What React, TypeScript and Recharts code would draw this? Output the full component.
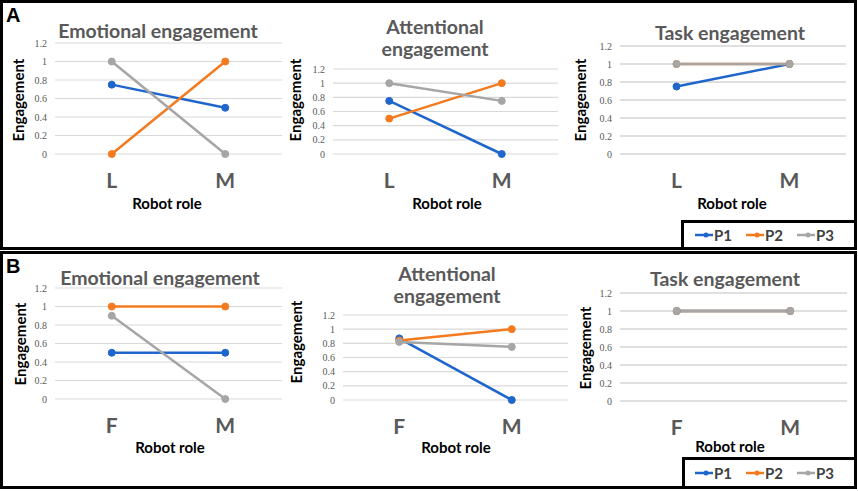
import { CartesianGrid, Line, LineChart, XAxis, YAxis } from "recharts";

const SERIES = ["P1", "P2", "P3"];
const COLORS = ["#1f66cc", "#f47a20", "#a6a6a6"];
const ROLES_A = ["L", "M"];
const ROLES_B = ["F", "M"];
const Y_TICKS = [0, 0.2, 0.4, 0.6, 0.8, 1, 1.2];

// panel A: leader (L) vs. motivator (M)
const aEmoP1 = [0.75, 0.5];
const aEmoP2 = [0, 1];
const aEmoP3 = [1, 0];
const aAttP1 = [0.75, 0];
const aAttP2 = [0.5, 1];
const aAttP3 = [1, 0.75];
const aTaskP1 = [0.75, 1];
const aTaskP2 = [1, 1];
const aTaskP3 = [1, 1];

// panel B: follower (F) vs. motivator (M)
const bEmoP1 = [0.5, 0.5];
const bEmoP2 = [1, 1];
const bEmoP3 = [0.9, 0];
const bAttP1 = [0.87, 0];
const bAttP2 = [0.84, 1];
const bAttP3 = [0.82, 0.75];
const bTaskP1 = [1, 1];
const bTaskP2 = [1, 1];
const bTaskP3 = [1, 1];

const rows = (cats: string[], p1: number[], p2: number[], p3: number[]) =>
  cats.map((role, i) => ({ role, P1: p1[i], P2: p2[i], P3: p3[i] }));

const SANS = "Lato, 'Open Sans', sans-serif";
const GRAY = "#595959";

type Box = { x0: number; x1: number; yTop: number; yBot: number; grid?: string };

function Mini({ data, x0, x1, yTop, yBot, grid = "#d9d9d9" }: Box & { data: any[] }) {
  const left = 60;
  const top = 5;
  const bottom = 40;
  const w = x1 - x0 + left + 5;
  const h = yBot - yTop + top + bottom;
  const pad = (x1 - x0) / 4;
  return (
    <div style={{ position: "absolute", left: x0 - left, top: yTop - top }}>
      <LineChart width={w} height={h} data={data} margin={{ top, right: 5, bottom: 0, left: 0 }}>
        <CartesianGrid vertical={false} stroke={grid} strokeWidth={1.2} />
        <XAxis
          dataKey="role"
          tickLine={false}
          axisLine={false}
          height={bottom}
          interval={0}
          padding={{ left: pad, right: pad }}
          tickMargin={13}
          tick={{ fontSize: 21, fontWeight: 700, fill: GRAY, fontFamily: SANS }}
        />
        <YAxis
          domain={[0, 1.2]}
          ticks={Y_TICKS}
          interval={0}
          width={left}
          tickLine={false}
          axisLine={false}
          tick={{ fontSize: 10, fill: GRAY, fontFamily: "'Liberation Serif', serif" }}
        />
        {SERIES.map((s, i) => (
          <Line
            key={s}
            dataKey={s}
            type="linear"
            stroke={COLORS[i]}
            strokeWidth={2.5}
            dot={{ r: 3.5, fill: COLORS[i], stroke: COLORS[i], strokeWidth: 1 }}
            activeDot={false}
            isAnimationActive={false}
          />
        ))}
      </LineChart>
    </div>
  );
}

function Txt({ x, y, children, style, vertical }: any) {
  return (
    <div
      style={{
        position: "absolute",
        left: x,
        top: y,
        lineHeight: 1,
        whiteSpace: "nowrap",
        transform: `translate(-50%, -50%)${vertical ? " rotate(-90deg)" : ""}`,
        ...style,
      }}
    >
      {children}
    </div>
  );
}

const titleStyle = { fontFamily: SANS, fontSize: 19.5, fontWeight: 700, color: GRAY };
const axisStyle = { fontFamily: SANS, fontSize: 15, fontWeight: 700, color: "#000" };

function Legend({ left, top, width, height }: any) {
  const xs = [695, 746, 797];
  return (
    <div
      style={{
        position: "absolute",
        left,
        top,
        width,
        height,
        border: "3px solid #000",
        boxSizing: "border-box",
        background: "#fff",
      }}
    >
      {SERIES.map((s, i) => (
        <div
          key={s}
          style={{
            position: "absolute",
            left: xs[i] - left - 3,
            top: "50%",
            transform: "translateY(-50%)",
            display: "flex",
            alignItems: "center",
          }}
        >
          <svg width={18} height={8}>
            <line x1={0} y1={4} x2={18} y2={4} stroke={COLORS[i]} strokeWidth={2.5} />
            <circle cx={11} cy={4} r={2.5} fill={COLORS[i]} />
          </svg>
          <span style={{ fontFamily: SANS, fontSize: 15, fontWeight: 700, color: "#404040", marginLeft: 1 }}>{s}</span>
        </div>
      ))}
    </div>
  );
}

export default function App() {
  return (
    <div style={{ position: "absolute", left: 0, top: 0, width: 858, height: 491, background: "#fff", overflow: "hidden" }}>
      {/* panel A */}
      <div style={{ position: "absolute", left: 0, top: 0, width: 857, height: 250, border: "3px solid #000", boxSizing: "border-box" }} />
      <div style={{ position: "absolute", left: 6, top: 4, fontFamily: "'Liberation Sans', Arial, sans-serif", fontWeight: 700, fontSize: 20 }}>A</div>

      <Txt x={158} y={31} style={titleStyle}>Emotional engagement</Txt>
      <Txt x={18} y={100} vertical style={axisStyle}>Engagement</Txt>
      <Txt x={167} y={203} style={axisStyle}>Robot role</Txt>
      <Mini data={rows(ROLES_A, aEmoP1, aEmoP2, aEmoP3)} x0={55} x1={282} yTop={43} yBot={154} />

      <Txt x={435} y={27} style={titleStyle}>Attentional</Txt>
      <Txt x={435} y={49} style={titleStyle}>engagement</Txt>
      <Txt x={295} y={100} vertical style={axisStyle}>Engagement</Txt>
      <Txt x={447} y={203} style={axisStyle}>Robot role</Txt>
      <Mini data={rows(ROLES_A, aAttP1, aAttP2, aAttP3)} x0={333} x1={558} yTop={69} yBot={154} />

      <Txt x={730} y={33} style={titleStyle}>Task engagement</Txt>
      <Txt x={580} y={100} vertical style={axisStyle}>Engagement</Txt>
      <Txt x={732} y={203} style={axisStyle}>Robot role</Txt>
      <Mini data={rows(ROLES_A, aTaskP1, aTaskP2, aTaskP3)} x0={620} x1={846} yTop={46} yBot={154} grid="#bfbfbf" />

      <Legend left={681} top={220} width={176} height={30} />

      {/* panel B */}
      <div style={{ position: "absolute", left: 0, top: 251, width: 857, height: 238, border: "3px solid #000", boxSizing: "border-box" }} />
      <div style={{ position: "absolute", left: 6, top: 255, fontFamily: "'Liberation Sans', Arial, sans-serif", fontWeight: 700, fontSize: 20 }}>B</div>

      <Txt x={160} y={278} style={titleStyle}>Emotional engagement</Txt>
      <Txt x={20} y={344} vertical style={axisStyle}>Engagement</Txt>
      <Txt x={170} y={447} style={axisStyle}>Robot role</Txt>
      <Mini data={rows(ROLES_B, bEmoP1, bEmoP2, bEmoP3)} x0={55} x1={282} yTop={288} yBot={399} />

      <Txt x={447} y={274} style={titleStyle}>Attentional</Txt>
      <Txt x={447} y={296} style={titleStyle}>engagement</Txt>
      <Txt x={296} y={342} vertical style={axisStyle}>Engagement</Txt>
      <Txt x={456} y={447} style={axisStyle}>Robot role</Txt>
      <Mini data={rows(ROLES_B, bAttP1, bAttP2, bAttP3)} x0={343} x1={568} yTop={315} yBot={400} />

      <Txt x={725} y={279} style={titleStyle}>Task engagement</Txt>
      <Txt x={585} y={348} vertical style={axisStyle}>Engagement</Txt>
      <Txt x={730} y={446} style={axisStyle}>Robot role</Txt>
      <Mini data={rows(ROLES_B, bTaskP1, bTaskP2, bTaskP3)} x0={620} x1={847} yTop={293} yBot={401} grid="#bfbfbf" />

      <Legend left={682} top={457} width={175} height={32} />
    </div>
  );
}
